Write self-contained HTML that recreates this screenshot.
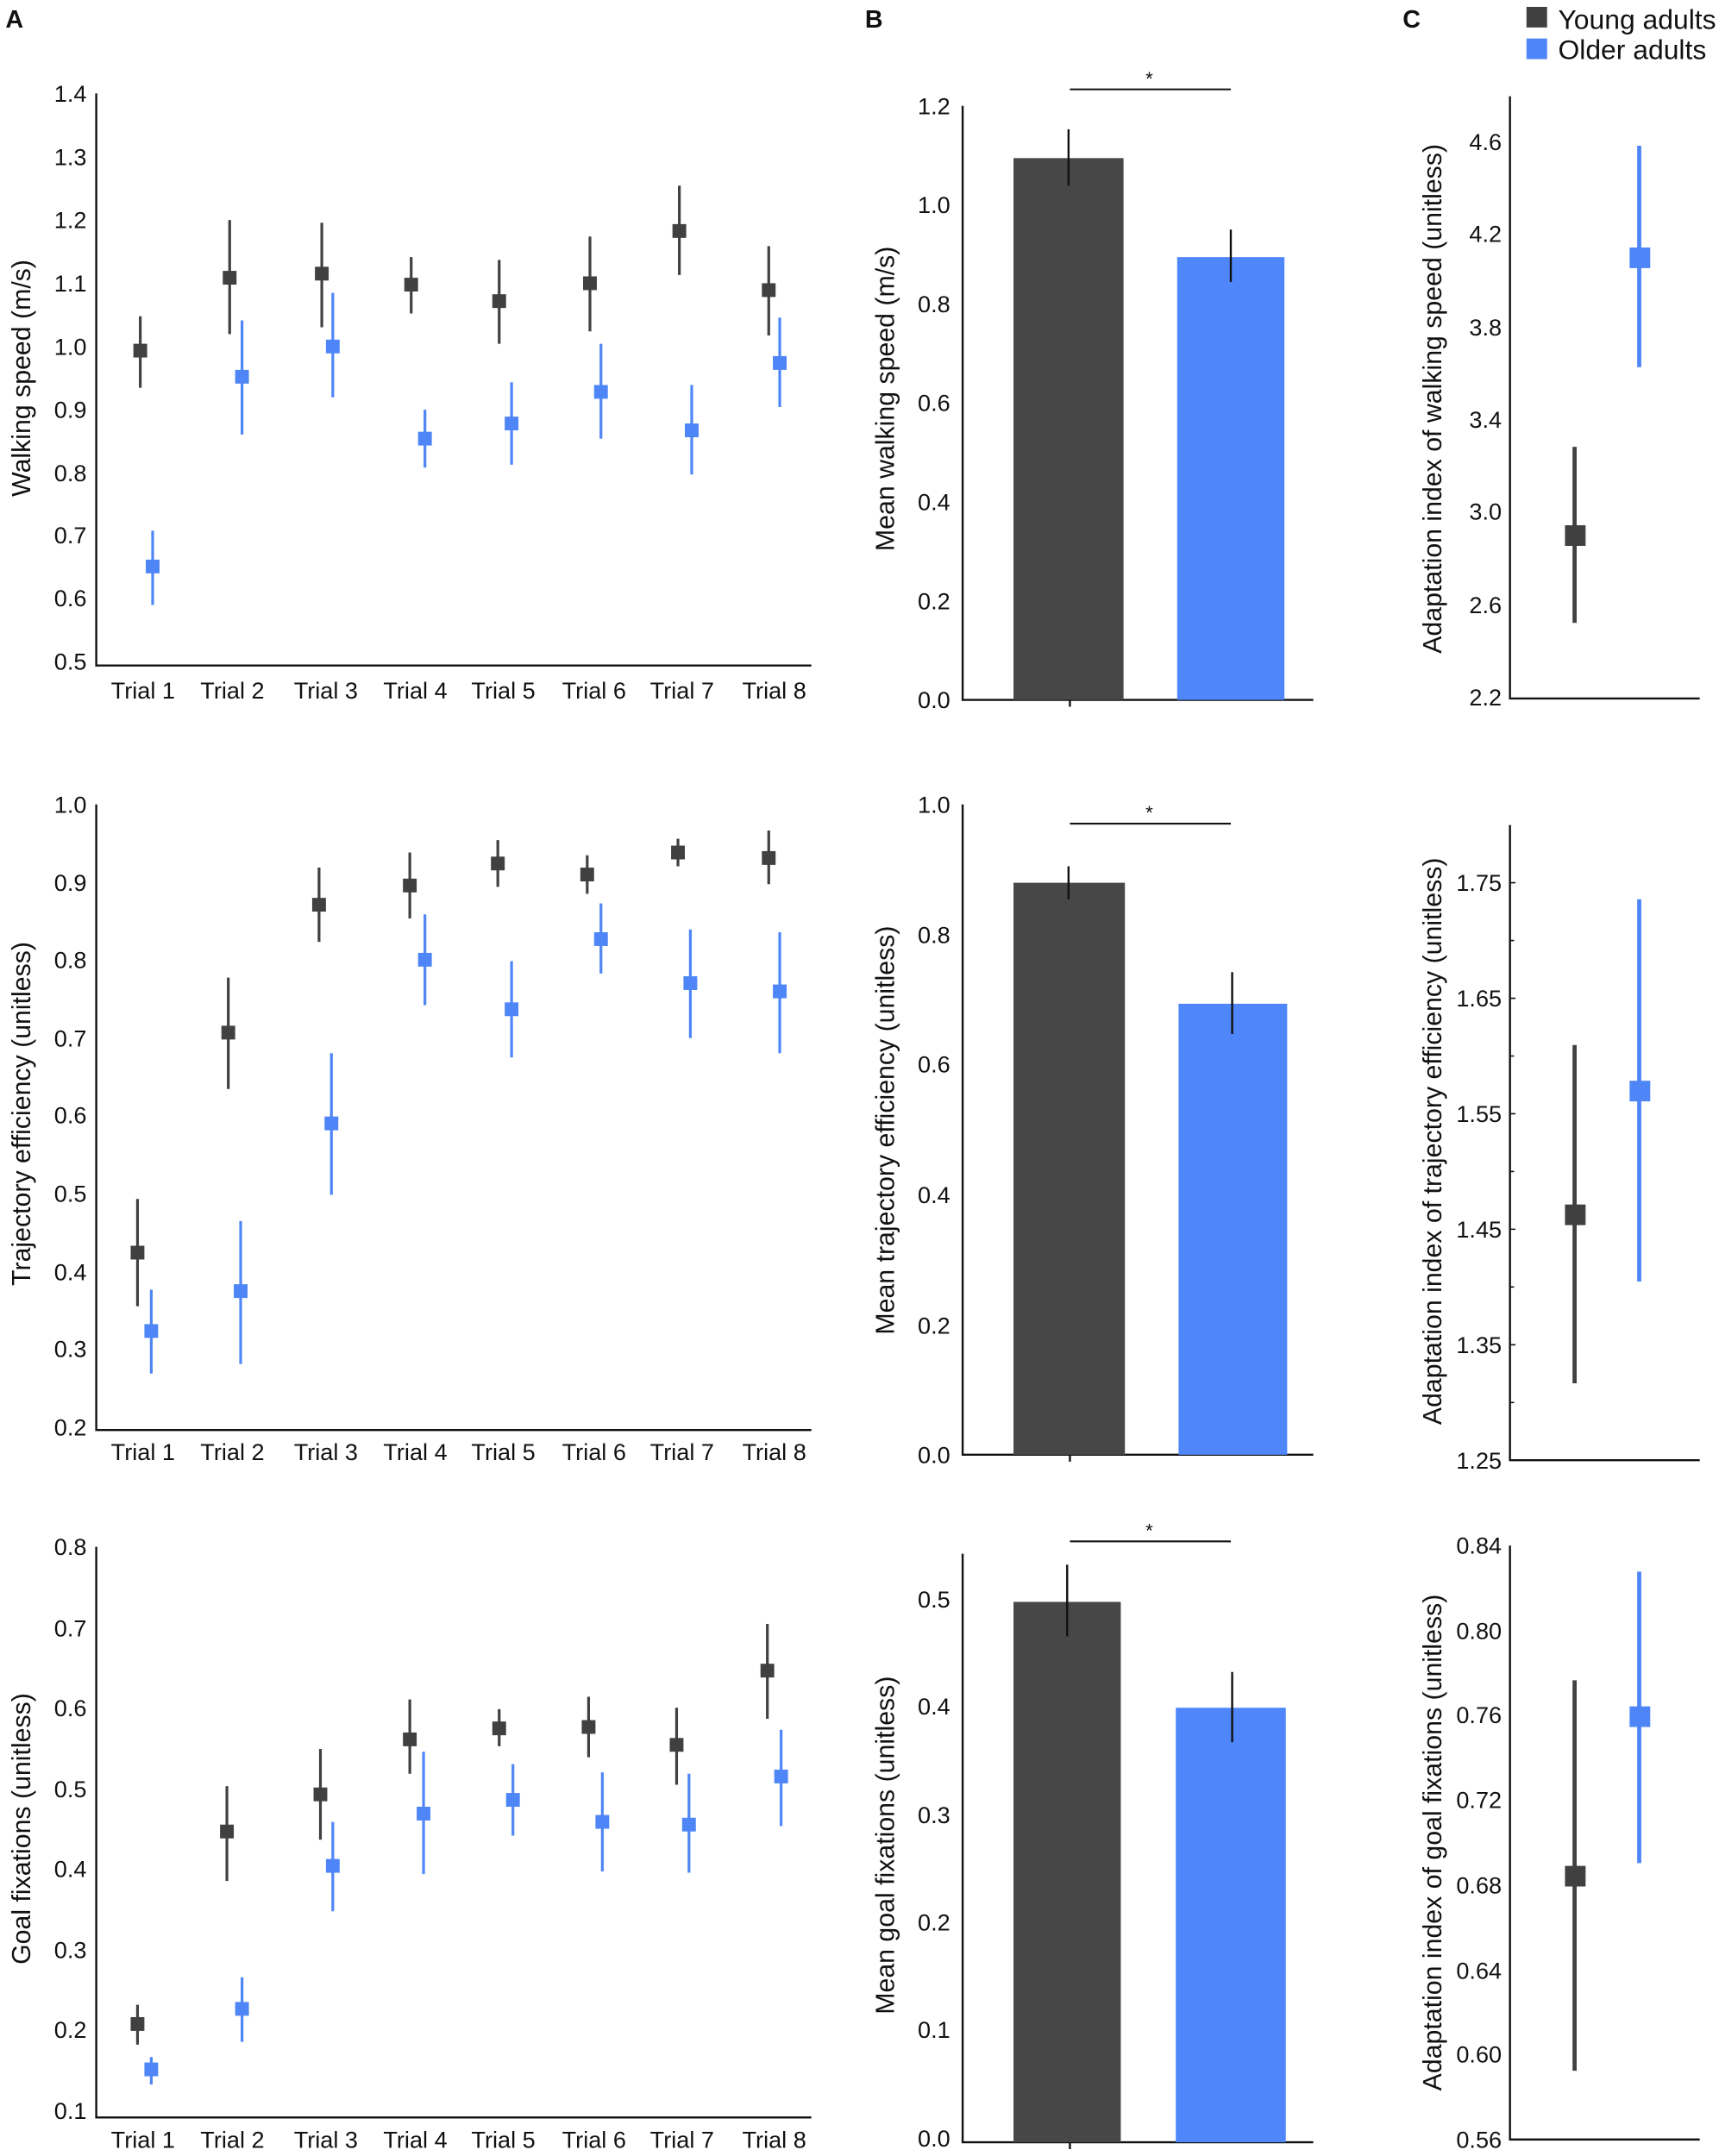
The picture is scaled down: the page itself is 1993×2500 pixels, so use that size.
<!DOCTYPE html>
<html><head><meta charset="utf-8"><style>
html,body{margin:0;padding:0;background:#fff;}
svg{display:block;}
text{font-family:"Liberation Sans",Arial,sans-serif;fill:#111;}
</style></head><body>
<svg width="1993" height="2500" viewBox="0 0 1250 1568" preserveAspectRatio="none" xmlns="http://www.w3.org/2000/svg">
<g font-weight="bold" font-size="18"><text x="4" y="20">A</text><text x="629" y="20">B</text><text x="1020" y="20">C</text></g>
<rect x="1110" y="5" width="15" height="15" fill="#404040"/><rect x="1110" y="28" width="15" height="15" fill="#4f86f7"/>
<text x="1133" y="21" font-size="20">Young adults</text><text x="1133" y="43" font-size="20">Older adults</text>

<g stroke="#111" stroke-width="1.5" fill="none">
<path d="M70,68V484H590"/><path d="M70,585V1040H590"/><path d="M70,1125V1540H590"/>
<path d="M700,77V509H955M778,509v5"/><path d="M700,585V1058H955M778,1058v5"/><path d="M700,1130V1558H955M778,1558v5"/>
<path d="M1098,70V508H1236"/><path d="M1098,600V1062H1236"/><path d="M1098,1124V1556H1236"/>
<path d="M778,65H895M778,599H895M778,1121H895" stroke-width="1.3"/>
<path d="M1098,642h4M1098,684h3M1098,726h4M1098,768h3M1098,810h4M1098,852h3M1098,894h4M1098,936h3M1098,978h4M1098,1020h3" stroke-width="1"/>
</g>
<g font-size="14"><text x="833" y="62">*</text><text x="833" y="596">*</text><text x="833" y="1118">*</text></g>

<g font-size="17" text-anchor="end">
<text x="63" y="74">1.4</text><text x="63" y="120">1.3</text><text x="63" y="166">1.2</text><text x="63" y="212">1.1</text><text x="63" y="258">1.0</text><text x="63" y="304">0.9</text><text x="63" y="350">0.8</text><text x="63" y="395">0.7</text><text x="63" y="441">0.6</text><text x="63" y="487">0.5</text>
<text x="63" y="591">1.0</text><text x="63" y="648">0.9</text><text x="63" y="704">0.8</text><text x="63" y="761">0.7</text><text x="63" y="817">0.6</text><text x="63" y="874">0.5</text><text x="63" y="931">0.4</text><text x="63" y="987">0.3</text><text x="63" y="1044">0.2</text>
<text x="63" y="1131">0.8</text><text x="63" y="1190">0.7</text><text x="63" y="1248">0.6</text><text x="63" y="1307">0.5</text><text x="63" y="1365">0.4</text><text x="63" y="1424">0.3</text><text x="63" y="1482">0.2</text><text x="63" y="1541">0.1</text>
<text x="691" y="83">1.2</text><text x="691" y="155">1.0</text><text x="691" y="227">0.8</text><text x="691" y="299">0.6</text><text x="691" y="371">0.4</text><text x="691" y="443">0.2</text><text x="691" y="515">0.0</text>
<text x="691" y="591">1.0</text><text x="691" y="686">0.8</text><text x="691" y="780">0.6</text><text x="691" y="875">0.4</text><text x="691" y="970">0.2</text><text x="691" y="1064">0.0</text>
<text x="691" y="1169">0.5</text><text x="691" y="1247">0.4</text><text x="691" y="1326">0.3</text><text x="691" y="1404">0.2</text><text x="691" y="1482">0.1</text><text x="691" y="1561">0.0</text>
<text x="1092" y="109">4.6</text><text x="1092" y="176">4.2</text><text x="1092" y="244">3.8</text><text x="1092" y="311">3.4</text><text x="1092" y="378">3.0</text><text x="1092" y="446">2.6</text><text x="1092" y="513">2.2</text>
<text x="1092" y="648">1.75</text><text x="1092" y="732">1.65</text><text x="1092" y="816">1.55</text><text x="1092" y="900">1.45</text><text x="1092" y="984">1.35</text><text x="1092" y="1068">1.25</text>
<text x="1092" y="1130">0.84</text><text x="1092" y="1192">0.80</text><text x="1092" y="1253">0.76</text><text x="1092" y="1315">0.72</text><text x="1092" y="1377">0.68</text><text x="1092" y="1439">0.64</text><text x="1092" y="1500">0.60</text><text x="1092" y="1562">0.56</text>
</g>

<g font-size="17" text-anchor="middle">
<g transform="translate(0,508)"><text x="104" y="0">Trial 1</text><text x="169" y="0">Trial 2</text><text x="237" y="0">Trial 3</text><text x="302" y="0">Trial 4</text><text x="366" y="0">Trial 5</text><text x="432" y="0">Trial 6</text><text x="496" y="0">Trial 7</text><text x="563" y="0">Trial 8</text></g>
<g transform="translate(0,1062)"><text x="104" y="0">Trial 1</text><text x="169" y="0">Trial 2</text><text x="237" y="0">Trial 3</text><text x="302" y="0">Trial 4</text><text x="366" y="0">Trial 5</text><text x="432" y="0">Trial 6</text><text x="496" y="0">Trial 7</text><text x="563" y="0">Trial 8</text></g>
<g transform="translate(0,1562)"><text x="104" y="0">Trial 1</text><text x="169" y="0">Trial 2</text><text x="237" y="0">Trial 3</text><text x="302" y="0">Trial 4</text><text x="366" y="0">Trial 5</text><text x="432" y="0">Trial 6</text><text x="496" y="0">Trial 7</text><text x="563" y="0">Trial 8</text></g>
</g>

<g font-size="19" text-anchor="middle">
<text transform="translate(22,275) rotate(-90)">Walking speed (m/s)</text>
<text transform="translate(22,810) rotate(-90)">Trajectory efficiency (unitless)</text>
<text transform="translate(22,1330) rotate(-90)">Goal fixations (unitless)</text>
<text transform="translate(650,290) rotate(-90)">Mean walking speed (m/s)</text>
<text transform="translate(650,822) rotate(-90)">Mean trajectory efficiency (unitless)</text>
<text transform="translate(650,1342) rotate(-90)">Mean goal fixations (unitless)</text>
<text transform="translate(1048,290) rotate(-90)">Adaptation index of walking speed (unitless)</text>
<text transform="translate(1048,830) rotate(-90)">Adaptation index of trajectory efficiency (unitless)</text>
<text transform="translate(1048,1340) rotate(-90)">Adaptation index of goal fixations (unitless)</text>
</g>

<rect x="737" y="115" width="80" height="394" fill="#474747"/><rect x="856" y="187" width="78" height="322" fill="#4f87fb"/>
<rect x="737" y="642" width="81" height="416" fill="#474747"/><rect x="857" y="730" width="79" height="328" fill="#4f87fb"/>
<rect x="737" y="1165" width="78" height="393" fill="#474747"/><rect x="855" y="1242" width="80" height="316" fill="#4f87fb"/>
<g stroke="#111" stroke-width="1.5"><path d="M777,94V135M895,167V205M777,630V654M896,707V752M776,1138V1190M896,1216V1267"/></g>

<g stroke="#404040" stroke-width="2" fill="#404040">
<path d="M102,230V282M167,160V243M234,162V238M299,187V228M363,189V250M429,172V241M494,135V200M559,179V244"/>
<path d="M100,872V950M166,711V792M232,631V685M298,620V668M362,611V645M427,622V650M493,610V630M559,604V643"/>
<path d="M100,1458V1487M165,1299V1368M233,1272V1338M298,1236V1290M363,1243V1270M428,1234V1278M492,1242V1298M558,1181V1250"/>
</g>
<g fill="#404040">
<rect x="97" y="250" width="10" height="10"/><rect x="162" y="197" width="10" height="10"/><rect x="229" y="194" width="10" height="10"/><rect x="294" y="202" width="10" height="10"/><rect x="358" y="214" width="10" height="10"/><rect x="424" y="201" width="10" height="10"/><rect x="489" y="163" width="10" height="10"/><rect x="554" y="206" width="10" height="10"/>
<rect x="95" y="906" width="10" height="10"/><rect x="161" y="746" width="10" height="10"/><rect x="227" y="653" width="10" height="10"/><rect x="293" y="639" width="10" height="10"/><rect x="357" y="623" width="10" height="10"/><rect x="422" y="631" width="10" height="10"/><rect x="488" y="615" width="10" height="10"/><rect x="554" y="619" width="10" height="10"/>
<rect x="95" y="1467" width="10" height="10"/><rect x="160" y="1327" width="10" height="10"/><rect x="228" y="1300" width="10" height="10"/><rect x="293" y="1260" width="10" height="10"/><rect x="358" y="1252" width="10" height="10"/><rect x="423" y="1251" width="10" height="10"/><rect x="487" y="1264" width="10" height="10"/><rect x="553" y="1210" width="10" height="10"/>
</g>
<g stroke="#4f86f7" stroke-width="2" fill="none">
<path d="M111,386V440M176,233V316M242,213V289M309,298V340M372,278V338M437,250V319M503,280V345M567,231V296"/>
<path d="M110,938V999M175,888V992M241,766V869M309,665V731M372,699V769M437,657V708M502,676V755M567,678V766"/>
<path d="M110,1496V1516M176,1438V1485M242,1325V1390M308,1274V1363M373,1283V1335M438,1289V1361M501,1290V1362M568,1258V1328"/>
</g>
<g fill="#4f86f7">
<rect x="106" y="407" width="10" height="10"/><rect x="171" y="269" width="10" height="10"/><rect x="237" y="247" width="10" height="10"/><rect x="304" y="314" width="10" height="10"/><rect x="367" y="303" width="10" height="10"/><rect x="432" y="280" width="10" height="10"/><rect x="498" y="308" width="10" height="10"/><rect x="562" y="259" width="10" height="10"/>
<rect x="105" y="963" width="10" height="10"/><rect x="170" y="934" width="10" height="10"/><rect x="236" y="812" width="10" height="10"/><rect x="304" y="693" width="10" height="10"/><rect x="367" y="729" width="10" height="10"/><rect x="432" y="678" width="10" height="10"/><rect x="497" y="710" width="10" height="10"/><rect x="562" y="716" width="10" height="10"/>
<rect x="105" y="1500" width="10" height="10"/><rect x="171" y="1456" width="10" height="10"/><rect x="237" y="1352" width="10" height="10"/><rect x="303" y="1314" width="10" height="10"/><rect x="368" y="1304" width="10" height="10"/><rect x="433" y="1320" width="10" height="10"/><rect x="496" y="1322" width="10" height="10"/><rect x="563" y="1287" width="10" height="10"/>
</g>

<g stroke-width="3"><path d="M1145,325V453M1145,760V1006M1145,1222V1506" stroke="#404040"/><path d="M1192,106V267M1192,654V932M1192,1143V1355" stroke="#4f86f7"/></g>
<g fill="#404040"><rect x="1138" y="382" width="15" height="15"/><rect x="1138" y="876" width="15" height="15"/><rect x="1138" y="1357" width="15" height="15"/></g>
<g fill="#4f86f7"><rect x="1185" y="180" width="15" height="15"/><rect x="1185" y="786" width="15" height="15"/><rect x="1185" y="1241" width="15" height="15"/></g>
</svg>
</body></html>
